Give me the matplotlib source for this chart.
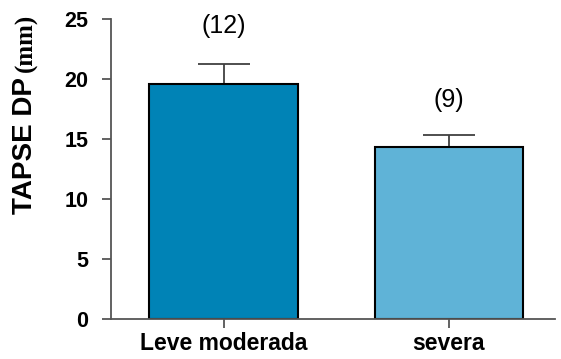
import numpy as np
import matplotlib.pyplot as plt

groups = ["Leve moderada", "severa"]
means = [19.6, 14.3]
errors = [1.65, 1.0]
counts = ["(12)", "(9)"]
colors = ["#0083b6", "#5fb3d7"]

fig = plt.figure(figsize=(5.61, 3.59), dpi=100)
ax = fig.add_axes([0.198, 0.111, 0.791, 0.836])

x = np.arange(len(groups))
ax.bar(x, means, width=0.66, color=colors, edgecolor="black", linewidth=1.5, zorder=2)
ax.errorbar(x, means, yerr=[[0, 0], errors], fmt="none", ecolor="#404040",
            elinewidth=1.3, capsize=19, capthick=1.3, zorder=1)

# sample sizes above each bar
ax.text(x[0], 24.4, counts[0], ha="center", va="center", fontsize=18, family="Liberation Sans")
ax.text(x[1], 18.25, counts[1], ha="center", va="center", fontsize=18, family="Liberation Sans")

ax.set_xlim(-0.5, 1.47)
ax.set_ylim(0, 25)
ax.set_yticks([0, 5, 10, 15, 20, 25])
ax.set_xticks(x)
ax.set_xticklabels(groups, fontsize=16.5, fontweight="bold", family="Liberation Sans")
for lbl in ax.get_yticklabels():
    lbl.set_fontsize(15.5)
    lbl.set_fontweight("bold")
    lbl.set_family("Liberation Sans")

for s in ["top", "right"]:
    ax.spines[s].set_visible(False)
for s in ["left", "bottom"]:
    ax.spines[s].set_color("#555555")
    ax.spines[s].set_linewidth(1.3)
ax.tick_params(axis="both", colors="#555555", width=1.3, length=6.5)
ax.tick_params(axis="both", labelcolor="black")
ax.tick_params(axis="x", pad=3)
ax.tick_params(axis="y", pad=10)

# y label: sans part plus serif units
fig.text(0.045, 0.596, "TAPSE DP", rotation=90, ha="center", va="center",
         fontsize=20, fontweight="bold", family="Liberation Sans")
fig.text(0.047, 0.88, "(mm)", rotation=90, ha="center", va="center",
         fontsize=18, fontweight="bold", family="Liberation Serif")

fig.savefig("out.png", dpi=100)
